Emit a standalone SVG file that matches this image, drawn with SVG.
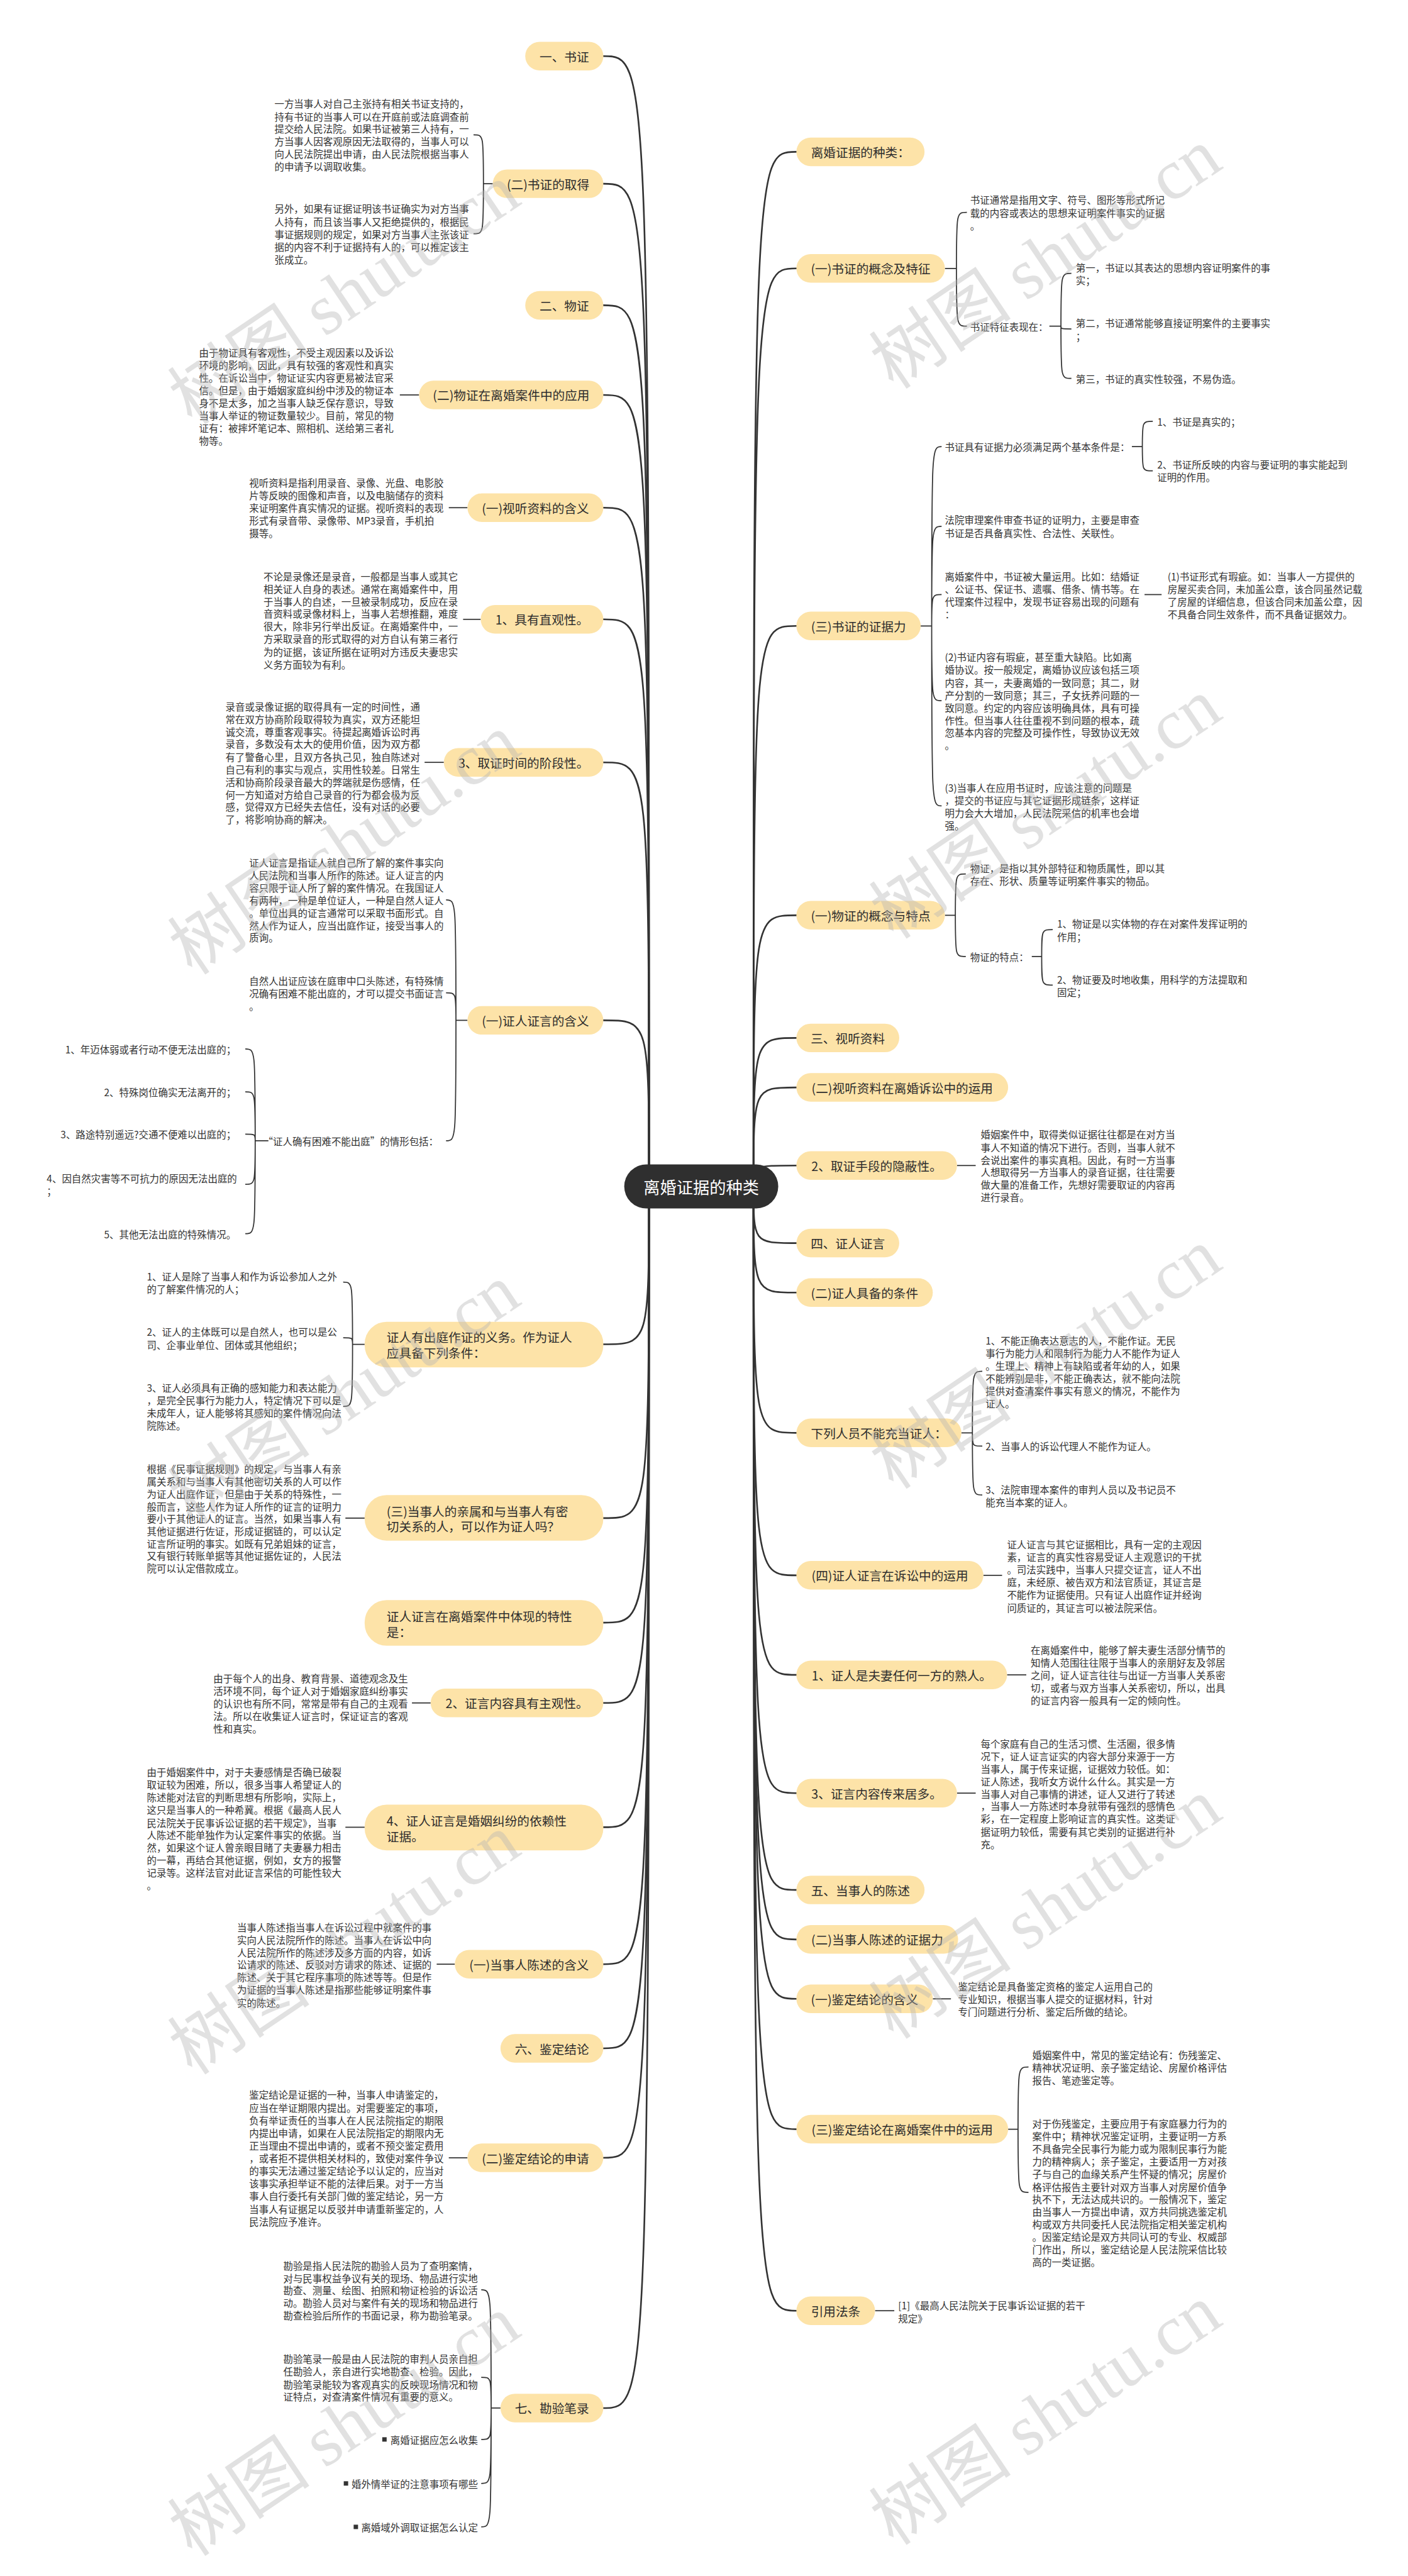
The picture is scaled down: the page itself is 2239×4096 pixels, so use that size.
<svg xmlns="http://www.w3.org/2000/svg" width="2239" height="4096" viewBox="0 0 2239 4096">
<style>
.n{fill:#fde3a8}
.nt{font-family:"Noto Sans CJK SC","Noto Sans",sans-serif;font-size:22.5px;fill:#2d2d2d;dominant-baseline:central;text-anchor:middle}
.nl{font-family:"Noto Sans CJK SC","Noto Sans",sans-serif;font-size:22.5px;fill:#2d2d2d;dominant-baseline:central}
.t{font-family:"Noto Sans CJK SC","Noto Sans",sans-serif;font-size:17.7px;fill:#333;dominant-baseline:central}
.te{font-family:"Noto Sans CJK SC","Noto Sans",sans-serif;font-size:17.7px;fill:#333;dominant-baseline:central;text-anchor:end}
.rt{font-family:"Noto Sans CJK SC","Noto Sans",sans-serif;font-size:30px;fill:#fff;dominant-baseline:central;text-anchor:middle}
.c{fill:none;stroke:#333;stroke-width:3;stroke-linecap:round}
.s{fill:none;stroke:#333;stroke-width:2}
.wm{font-family:"Noto Sans CJK SC",sans-serif;font-size:130px;fill:#b5b5b5;opacity:0.4}
.wm2{font-family:"Liberation Serif",serif}
</style>
<rect width="2239" height="4096" fill="#fff"/>
<g transform="scale(0.8746)">
<g id="connectors">
<!-- root to right -->
<path class="c" d="M1370,2157 C1370,276 1370,276 1448,276"/>
<path class="c" d="M1370,2157 C1370,488 1370,488 1448,488"/>
<path class="c" d="M1370,2157 C1370,1138 1370,1138 1448,1138"/>
<path class="c" d="M1370,2157 C1370,1664 1370,1664 1448,1664"/>
<path class="c" d="M1370,2157 C1370,1887 1370,1887 1448,1887"/>
<path class="c" d="M1370,2157 C1370,1977 1370,1977 1448,1977"/>
<path class="c" d="M1370,2157 C1370,2119 1370,2119 1448,2119"/>
<path class="c" d="M1370,2157 C1370,2260 1370,2260 1448,2260"/>
<path class="c" d="M1370,2157 C1370,2350 1370,2350 1448,2350"/>
<path class="c" d="M1370,2157 C1370,2605 1370,2605 1448,2605"/>
<path class="c" d="M1370,2157 C1370,2864 1370,2864 1448,2864"/>
<path class="c" d="M1370,2157 C1370,3045 1370,3045 1448,3045"/>
<path class="c" d="M1370,2157 C1370,3260 1370,3260 1448,3260"/>
<path class="c" d="M1370,2157 C1370,3436 1370,3436 1448,3436"/>
<path class="c" d="M1370,2157 C1370,3526 1370,3526 1448,3526"/>
<path class="c" d="M1370,2157 C1370,3634 1370,3634 1448,3634"/>
<path class="c" d="M1370,2157 C1370,3871 1370,3871 1448,3871"/>
<path class="c" d="M1370,2157 C1370,4201 1370,4201 1448,4201"/>
<!-- root to left -->
<path class="c" d="M1180,2157 C1180,102 1180,102 1097,102"/>
<path class="c" d="M1180,2157 C1180,334 1180,334 1097,334"/>
<path class="c" d="M1180,2157 C1180,555 1180,555 1097,555"/>
<path class="c" d="M1180,2157 C1180,718 1180,718 1097,718"/>
<path class="c" d="M1180,2157 C1180,923 1180,923 1097,923"/>
<path class="c" d="M1180,2157 C1180,1126 1180,1126 1097,1126"/>
<path class="c" d="M1180,2157 C1180,1386 1180,1386 1097,1386"/>
<path class="c" d="M1180,2157 C1180,1855 1180,1855 1097,1855"/>
<path class="c" d="M1180,2157 C1180,2444 1180,2444 1097,2444"/>
<path class="c" d="M1180,2157 C1180,2760 1180,2760 1097,2760"/>
<path class="c" d="M1180,2157 C1180,2950 1180,2950 1097,2950"/>
<path class="c" d="M1180,2157 C1180,3096 1180,3096 1097,3096"/>
<path class="c" d="M1180,2157 C1180,3322 1180,3322 1097,3322"/>
<path class="c" d="M1180,2157 C1180,3571 1180,3571 1097,3571"/>
<path class="c" d="M1180,2157 C1180,3724 1180,3724 1097,3724"/>
<path class="c" d="M1180,2157 C1180,3923 1180,3923 1097,3923"/>
<path class="c" d="M1180,2157 C1180,4378 1180,4378 1097,4378"/>
<!-- right sub connectors -->
<path class="s" d="M1718,488 H1739 M1739,488 C1739,386 1739,386 1758,386 M1739,488 C1739,593 1739,593 1758,593"/>
<path class="s" d="M1908,593 H1929 M1929,593 C1929,497 1929,497 1948,497 M1929,593 C1929,598 1929,598 1948,598 M1929,593 C1929,688 1929,688 1948,688"/>
<path class="s" d="M1674,1138 H1694 M1694,1138 C1694,812 1694,812 1712,812 M1694,1138 C1694,957 1694,957 1712,957 M1694,1138 C1694,1081 1694,1081 1712,1081 M1694,1138 C1694,1274 1694,1274 1712,1274 M1694,1138 C1694,1465 1694,1465 1712,1465"/>
<path class="s" d="M2058,812 H2077 M2077,812 C2077,766 2077,766 2096,766 M2077,812 C2077,856 2077,856 2096,856"/>
<path class="s" d="M2081,1081 H2112"/>
<path class="s" d="M1718,1664 H1737 M1737,1664 C1737,1589 1737,1589 1756,1589 M1737,1664 C1737,1739 1737,1739 1756,1739"/>
<path class="s" d="M1876,1739 H1894 M1894,1739 C1894,1690 1894,1690 1914,1690 M1894,1739 C1894,1791 1894,1791 1914,1791"/>
<path class="s" d="M1740,2119 H1774"/>
<path class="s" d="M1748,2605 H1768 M1768,2605 C1768,2493 1768,2493 1786,2493 M1768,2605 C1768,2629 1768,2629 1786,2629 M1768,2605 C1768,2718 1768,2718 1786,2718"/>
<path class="s" d="M1788,2864 H1822"/>
<path class="s" d="M1831,3045 H1866"/>
<path class="s" d="M1740,3260 H1774"/>
<path class="s" d="M1696,3634 H1729"/>
<path class="s" d="M1833,3871 H1851 M1851,3871 C1851,3758 1851,3758 1870,3758 M1851,3871 C1851,3986 1851,3986 1870,3986"/>
<path class="s" d="M1591,4201 H1626"/>
<!-- left sub connectors -->
<path class="s" d="M896,334 H879 M879,334 C879,245 879,245 861,245 M879,334 C879,425 879,425 861,425"/>
<path class="s" d="M762,718 H727"/>
<path class="s" d="M850,923 H816"/>
<path class="s" d="M874,1126 H842"/>
<path class="s" d="M807,1386 H772"/>
<path class="s" d="M850,1855 H829 M829,1855 C829,1636 829,1636 811,1636 M829,1855 C829,1805 829,1805 811,1805 M829,1855 C829,2074 829,2074 811,2074"/>
<path class="s" d="M488,2074 H464 M464,2074 C464,1907 464,1907 446,1907 M464,2074 C464,1985 464,1985 446,1985 M464,2074 C464,2062 464,2062 446,2062 M464,2074 C464,2153 464,2153 446,2153 M464,2074 C464,2243 464,2243 446,2243"/>
<path class="s" d="M663,2444 H641 M641,2444 C641,2331 641,2331 624,2331 M641,2444 C641,2432 641,2432 624,2432 M641,2444 C641,2557 641,2557 624,2557"/>
<path class="s" d="M663,2760 H628"/>
<path class="s" d="M783,3096 H749"/>
<path class="s" d="M663,3322 H628"/>
<path class="s" d="M827,3571 H794"/>
<path class="s" d="M850,3923 H816"/>
<path class="s" d="M910,4378 H893 M893,4378 C893,4163 893,4163 875,4163 M893,4378 C893,4322 893,4322 875,4322 M893,4378 C893,4435 893,4435 875,4435 M893,4378 C893,4515 893,4515 875,4515 M893,4378 C893,4594 893,4594 875,4594"/>
</g>

<g id="root"><rect x="1135" y="2117" width="280" height="80" rx="40" fill="#2f2f2f"/><text class="rt" x="1275" y="2157">离婚证据的种类</text></g>

<!-- right nodes -->
<g id="r1"><rect class="n" x="1448" y="250" width="233" height="52" rx="26"/><text class="nt" x="1564.5" y="276">离婚证据的种类：</text></g>
<g id="r2"><rect class="n" x="1448" y="462" width="270" height="52" rx="26"/><text class="nt" x="1583" y="488">(一)书证的概念及特征</text>
<text class="t"><tspan x="1764" y="363">书证通常是指用文字、符号、图形等形式所记</tspan><tspan x="1764" y="386">载的内容或表达的思想来证明案件事实的证据</tspan><tspan x="1764" y="409">。</tspan></text>
<text class="t" x="1764" y="593">书证特征表现在：</text>
<text class="t"><tspan x="1956" y="486">第一，书证以其表达的思想内容证明案件的事</tspan><tspan x="1956" y="509">实；</tspan></text>
<text class="t"><tspan x="1956" y="587">第二，书证通常能够直接证明案件的主要事实</tspan><tspan x="1956" y="610">；</tspan></text>
<text class="t" x="1956" y="688">第三，书证的真实性较强，不易伪造。</text>
</g>
<g id="r3"><rect class="n" x="1448" y="1112" width="226" height="52" rx="26"/><text class="nt" x="1561" y="1138">(三)书证的证据力</text>
<text class="t" x="1718" y="812">书证具有证据力必须满足两个基本条件是：</text>
<text class="t" x="2104" y="766">1、书证是真实的；</text>
<text class="t"><tspan x="2104" y="844">2、书证所反映的内容与要证明的事实能起到</tspan><tspan x="2104" y="867">证明的作用。</tspan></text>
<text class="t"><tspan x="1718" y="945">法院审理案件审查书证的证明力，主要是审查</tspan><tspan x="1718" y="968">书证是否具备真实性、合法性、关联性。</tspan></text>
<text class="t"><tspan x="1718" y="1047">离婚案件中，书证被大量运用。比如：结婚证</tspan><tspan x="1718" y="1070">、公证书、保证书、遗嘱、借条、情书等。在</tspan><tspan x="1718" y="1093">代理案件过程中，发现书证容易出现的问题有</tspan><tspan x="1718" y="1116">：</tspan></text>
<text class="t"><tspan x="2123" y="1047">(1)书证形式有瑕疵。如：当事人一方提供的</tspan><tspan x="2123" y="1070">房屋买卖合同，未加盖公章，该合同虽然记载</tspan><tspan x="2123" y="1093">了房屋的详细信息，但该合同未加盖公章，因</tspan><tspan x="2123" y="1116">不具备合同生效条件，而不具备证据效力。</tspan></text>
<text class="t"><tspan x="1718" y="1194">(2)书证内容有瑕疵，甚至重大缺陷。比如离</tspan><tspan x="1718" y="1217">婚协议。按一般规定，离婚协议应该包括三项</tspan><tspan x="1718" y="1240">内容，其一，夫妻离婚的一致同意；其二，财</tspan><tspan x="1718" y="1263">产分割的一致同意；其三，子女抚养问题的一</tspan><tspan x="1718" y="1286">致同意。约定的内容应该明确具体，具有可操</tspan><tspan x="1718" y="1309">作性。但当事人往往重视不到问题的根本，疏</tspan><tspan x="1718" y="1331">忽基本内容的完整及可操作性，导致协议无效</tspan><tspan x="1718" y="1354">。</tspan></text>
<text class="t"><tspan x="1718" y="1431">(3)当事人在应用书证时，应该注意的问题是</tspan><tspan x="1718" y="1454">，提交的书证应与其它证据形成链条，这样证</tspan><tspan x="1718" y="1477">明力会大大增加，人民法院采信的机率也会增</tspan><tspan x="1718" y="1500">强。</tspan></text>
</g>
<g id="r4"><rect class="n" x="1448" y="1638" width="270" height="52" rx="26"/><text class="nt" x="1583" y="1664">(一)物证的概念与特点</text>
<text class="t"><tspan x="1764" y="1578">物证，是指以其外部特征和物质属性，即以其</tspan><tspan x="1764" y="1601">存在、形状、质量等证明案件事实的物品。</tspan></text>
<text class="t" x="1764" y="1739">物证的特点：</text>
<text class="t"><tspan x="1922" y="1679">1、物证是以实体物的存在对案件发挥证明的</tspan><tspan x="1922" y="1702">作用；</tspan></text>
<text class="t"><tspan x="1922" y="1780">2、物证要及时地收集，用科学的方法提取和</tspan><tspan x="1922" y="1803">固定；</tspan></text>
</g>
<g id="r5"><rect class="n" x="1448" y="1861" width="187" height="52" rx="26"/><text class="nt" x="1541.5" y="1887">三、视听资料</text></g>
<g id="r6"><rect class="n" x="1448" y="1951" width="385" height="52" rx="26"/><text class="nt" x="1640.5" y="1977">(二)视听资料在离婚诉讼中的运用</text></g>
<g id="r7"><rect class="n" x="1448" y="2093" width="292" height="52" rx="26"/><text class="nt" x="1594" y="2119">2、取证手段的隐蔽性。</text>
<text class="t"><tspan x="1783" y="2062">婚姻案件中，取得类似证据往往都是在对方当</tspan><tspan x="1783" y="2085">事人不知道的情况下进行。否则，当事人就不</tspan><tspan x="1783" y="2108">会说出案件的事实真相。因此，有时一方当事</tspan><tspan x="1783" y="2130">人想取得另一方当事人的录音证据，往往需要</tspan><tspan x="1783" y="2153">做大量的准备工作，先想好需要取证的内容再</tspan><tspan x="1783" y="2176">进行录音。</tspan></text>
</g>
<g id="r8"><rect class="n" x="1448" y="2234" width="187" height="52" rx="26"/><text class="nt" x="1541.5" y="2260">四、证人证言</text></g>
<g id="r9"><rect class="n" x="1448" y="2324" width="248" height="52" rx="26"/><text class="nt" x="1572" y="2350">(二)证人具备的条件</text></g>
<g id="r10"><rect class="n" x="1448" y="2579" width="300" height="52" rx="26"/><text class="nt" x="1598" y="2605">下列人员不能充当证人：</text>
<text class="t"><tspan x="1792" y="2436">1、不能正确表达意志的人，不能作证。无民</tspan><tspan x="1792" y="2459">事行为能力人和限制行为能力人不能作为证人</tspan><tspan x="1792" y="2482">。生理上、精神上有缺陷或者年幼的人，如果</tspan><tspan x="1792" y="2505">不能辨别是非，不能正确表达，就不能向法院</tspan><tspan x="1792" y="2528">提供对查清案件事实有意义的情况，不能作为</tspan><tspan x="1792" y="2551">证人。</tspan></text>
<text class="t" x="1792" y="2629">2、当事人的诉讼代理人不能作为证人。</text>
<text class="t"><tspan x="1792" y="2707">3、法院审理本案件的审判人员以及书记员不</tspan><tspan x="1792" y="2730">能充当本案的证人。</tspan></text>
</g>
<g id="r11"><rect class="n" x="1448" y="2838" width="340" height="52" rx="26"/><text class="nt" x="1618" y="2864">(四)证人证言在诉讼中的运用</text>
<text class="t"><tspan x="1831" y="2807">证人证言与其它证据相比，具有一定的主观因</tspan><tspan x="1831" y="2830">素，证言的真实性容易受证人主观意识的干扰</tspan><tspan x="1831" y="2853">。司法实践中，当事人只提交证言，证人不出</tspan><tspan x="1831" y="2876">庭，未经原、被告双方和法官质证，其证言是</tspan><tspan x="1831" y="2899">不能作为证据使用。只有证人出庭作证并经询</tspan><tspan x="1831" y="2922">问质证的，其证言可以被法院采信。</tspan></text>
</g>
<g id="r12"><rect class="n" x="1448" y="3019" width="383" height="52" rx="26"/><text class="nt" x="1639.5" y="3045">1、证人是夫妻任何一方的熟人。</text>
<text class="t"><tspan x="1874" y="2999">在离婚案件中，能够了解夫妻生活部分情节的</tspan><tspan x="1874" y="3022">知情人范围往往限于当事人的亲朋好友及邻居</tspan><tspan x="1874" y="3045">之间，证人证言往往与出证一方当事人关系密</tspan><tspan x="1874" y="3068">切，或者与双方当事人关系密切，所以，出具</tspan><tspan x="1874" y="3091">的证言内容一般具有一定的倾向性。</tspan></text>
</g>
<g id="r13"><rect class="n" x="1448" y="3234" width="292" height="52" rx="26"/><text class="nt" x="1594" y="3260">3、证言内容传来居多。</text>
<text class="t"><tspan x="1783" y="3169">每个家庭有自己的生活习惯、生活圈，很多情</tspan><tspan x="1783" y="3192">况下，证人证言证实的内容大部分来源于一方</tspan><tspan x="1783" y="3215">当事人，属于传来证据，证据效力较低。如：</tspan><tspan x="1783" y="3238">证人陈述，我听女方说什么什么。其实是一方</tspan><tspan x="1783" y="3261">当事人对自己事情的讲述，证人又进行了转述</tspan><tspan x="1783" y="3283">，当事人一方陈述时本身就带有强烈的感情色</tspan><tspan x="1783" y="3306">彩，在一定程度上影响证言的真实性。这类证</tspan><tspan x="1783" y="3329">据证明力较低，需要有其它类别的证据进行补</tspan><tspan x="1783" y="3352">充。</tspan></text>
</g>
<g id="r14"><rect class="n" x="1448" y="3410" width="233" height="52" rx="26"/><text class="nt" x="1564.5" y="3436">五、当事人的陈述</text></g>
<g id="r15"><rect class="n" x="1448" y="3500" width="294" height="52" rx="26"/><text class="nt" x="1595" y="3526">(二)当事人陈述的证据力</text></g>
<g id="r16"><rect class="n" x="1448" y="3608" width="248" height="52" rx="26"/><text class="nt" x="1572" y="3634">(一)鉴定结论的含义</text>
<text class="t"><tspan x="1742" y="3611">鉴定结论是具备鉴定资格的鉴定人运用自己的</tspan><tspan x="1742" y="3634">专业知识，根据当事人提交的证据材料，针对</tspan><tspan x="1742" y="3657">专门问题进行分析、鉴定后所做的结论。</tspan></text>
</g>
<g id="r17"><rect class="n" x="1448" y="3845" width="385" height="52" rx="26"/><text class="nt" x="1640.5" y="3871">(三)鉴定结论在离婚案件中的运用</text>
<text class="t"><tspan x="1877" y="3735">婚姻案件中，常见的鉴定结论有：伤残鉴定、</tspan><tspan x="1877" y="3758">精神状况证明、亲子鉴定结论、房屋价格评估</tspan><tspan x="1877" y="3781">报告、笔迹鉴定等。</tspan></text>
<text class="t"><tspan x="1877" y="3860">对于伤残鉴定，主要应用于有家庭暴力行为的</tspan><tspan x="1877" y="3883">案件中；精神状况鉴定证明，主要证明一方系</tspan><tspan x="1877" y="3906">不具备完全民事行为能力或为限制民事行为能</tspan><tspan x="1877" y="3929">力的精神病人；亲子鉴定，主要适用一方对孩</tspan><tspan x="1877" y="3952">子与自己的血缘关系产生怀疑的情况；房屋价</tspan><tspan x="1877" y="3975">格评估报告主要针对双方当事人对房屋价值争</tspan><tspan x="1877" y="3997">执不下，无法达成共识的。一般情况下，鉴定</tspan><tspan x="1877" y="4020">由当事人一方提出申请，双方共同挑选鉴定机</tspan><tspan x="1877" y="4043">构或双方共同委托人民法院指定相关鉴定机构</tspan><tspan x="1877" y="4066">。因鉴定结论是双方共同认可的专业、权威部</tspan><tspan x="1877" y="4089">门作出，所以，鉴定结论是人民法院采信比较</tspan><tspan x="1877" y="4112">高的一类证据。</tspan></text>
</g>
<g id="r18"><rect class="n" x="1448" y="4175" width="143" height="52" rx="26"/><text class="nt" x="1519.5" y="4201">引用法条</text>
<text class="t"><tspan x="1633" y="4191">[1]《最高人民法院关于民事诉讼证据的若干</tspan><tspan x="1633" y="4214">规定》</tspan></text>
</g>

<!-- left nodes -->
<g id="l1"><rect class="n" x="955" y="76" width="142" height="52" rx="26"/><text class="nt" x="1026" y="102">一、书证</text></g>
<g id="l2"><rect class="n" x="896" y="308" width="201" height="52" rx="26"/><text class="nt" x="996.5" y="334">(二)书证的取得</text>
<text class="t"><tspan x="499" y="188">一方当事人对自己主张持有相关书证支持的，</tspan><tspan x="499" y="211">持有书证的当事人可以在开庭前或法庭调查前</tspan><tspan x="499" y="233">提交给人民法院。如果书证被第三人持有，一</tspan><tspan x="499" y="256">方当事人因客观原因无法取得的，当事人可以</tspan><tspan x="499" y="279">向人民法院提出申请，由人民法院根据当事人</tspan><tspan x="499" y="302">的申请予以调取收集。</tspan></text>
<text class="t"><tspan x="499" y="379">另外，如果有证据证明该书证确实为对方当事</tspan><tspan x="499" y="402">人持有，而且该当事人又拒绝提供的，根据民</tspan><tspan x="499" y="425">事证据规则的规定，如果对方当事人主张该证</tspan><tspan x="499" y="448">据的内容不利于证据持有人的，可以推定该主</tspan><tspan x="499" y="471">张成立。</tspan></text>
</g>
<g id="l3"><rect class="n" x="955" y="529" width="142" height="52" rx="26"/><text class="nt" x="1026" y="555">二、物证</text></g>
<g id="l4"><rect class="n" x="762" y="692" width="335" height="52" rx="26"/><text class="nt" x="929.5" y="718">(二)物证在离婚案件中的应用</text>
<text class="t"><tspan x="362" y="640">由于物证具有客观性，不受主观因素以及诉讼</tspan><tspan x="362" y="663">环境的影响，因此，具有较强的客观性和真实</tspan><tspan x="362" y="686">性。在诉讼当中，物证证实内容更易被法官采</tspan><tspan x="362" y="709">信。但是，由于婚姻家庭纠纷中涉及的物证本</tspan><tspan x="362" y="732">身不是太多，加之当事人缺乏保存意识，导致</tspan><tspan x="362" y="755">当事人举证的物证数量较少。目前，常见的物</tspan><tspan x="362" y="777">证有：被摔坏笔记本、照相机、送给第三者礼</tspan><tspan x="362" y="800">物等。</tspan></text>
</g>
<g id="l5"><rect class="n" x="850" y="897" width="247" height="52" rx="26"/><text class="nt" x="973.5" y="923">(一)视听资料的含义</text>
<text class="t"><tspan x="453" y="877">视听资料是指利用录音、录像、光盘、电影胶</tspan><tspan x="453" y="900">片等反映的图像和声音，以及电脑储存的资料</tspan><tspan x="453" y="923">来证明案件真实情况的证据。视听资料的表现</tspan><tspan x="453" y="946">形式有录音带、录像带、MP3录音，手机拍</tspan><tspan x="453" y="969">摄等。</tspan></text>
</g>
<g id="l6"><rect class="n" x="874" y="1100" width="223" height="52" rx="26"/><text class="nt" x="985.5" y="1126">1、具有直观性。</text>
<text class="t"><tspan x="479" y="1047">不论是录像还是录音，一般都是当事人或其它</tspan><tspan x="479" y="1070">相关证人自身的表述。通常在离婚案件中，用</tspan><tspan x="479" y="1093">于当事人的自述，一旦被录制成功，反应在录</tspan><tspan x="479" y="1115">音资料或录像材料上，当事人若想推翻，难度</tspan><tspan x="479" y="1138">很大，除非另行举出反证。在离婚案件中，一</tspan><tspan x="479" y="1161">方采取录音的形式取得的对方自认有第三者行</tspan><tspan x="479" y="1184">为的证据，该证所据在证明对方违反夫妻忠实</tspan><tspan x="479" y="1207">义务方面较为有利。</tspan></text>
</g>
<g id="l7"><rect class="n" x="807" y="1360" width="290" height="52" rx="26"/><text class="nt" x="952" y="1386">3、取证时间的阶段性。</text>
<text class="t"><tspan x="410" y="1284">录音或录像证据的取得具有一定的时间性，通</tspan><tspan x="410" y="1307">常在双方协商阶段取得较为真实，双方还能坦</tspan><tspan x="410" y="1330">诚交流，尊重客观事实。待提起离婚诉讼时再</tspan><tspan x="410" y="1352">录音，多数没有太大的使用价值，因为双方都</tspan><tspan x="410" y="1375">有了警备心里，且双方各执己见，独自陈述对</tspan><tspan x="410" y="1398">自己有利的事实与观点，实用性较差。日常生</tspan><tspan x="410" y="1421">活和协商阶段录音最大的弊端就是伤感情，任</tspan><tspan x="410" y="1444">何一方知道对方给自己录音的行为都会极为反</tspan><tspan x="410" y="1466">感，觉得双方已经失去信任，没有对话的必要</tspan><tspan x="410" y="1489">了，将影响协商的解决。</tspan></text>
</g>
<g id="l8"><rect class="n" x="850" y="1829" width="247" height="52" rx="26"/><text class="nt" x="973.5" y="1855">(一)证人证言的含义</text>
<text class="t"><tspan x="453" y="1568">证人证言是指证人就自己所了解的案件事实向</tspan><tspan x="453" y="1591">人民法院和当事人所作的陈述。证人证言的内</tspan><tspan x="453" y="1613">容只限于证人所了解的案件情况。在我国证人</tspan><tspan x="453" y="1636">有两种，一种是单位证人，一种是自然人证人</tspan><tspan x="453" y="1659">。单位出具的证言通常可以采取书面形式。自</tspan><tspan x="453" y="1682">然人作为证人，应当出庭作证，接受当事人的</tspan><tspan x="453" y="1704">质询。</tspan></text>
<text class="t"><tspan x="453" y="1782">自然人出证应该在庭审中口头陈述，有特殊情</tspan><tspan x="453" y="1805">况确有困难不能出庭的，才可以提交书面证言</tspan><tspan x="453" y="1828">。</tspan></text>
<text class="te" x="797" y="2074">“证人确有困难不能出庭”的情形包括：</text>
<text class="te" x="429" y="1907">1、年迈体弱或者行动不便无法出庭的；</text>
<text class="te" x="429" y="1985">2、特殊岗位确实无法离开的；</text>
<text class="te" x="429" y="2062">3、路途特别遥远?交通不便难以出庭的；</text>
<text class="t"><tspan x="85" y="2141">4、因自然灾害等不可抗力的原因无法出庭的</tspan><tspan x="85" y="2164">；</tspan></text>
<text class="te" x="429" y="2243">5、其他无法出庭的特殊情况。</text>
</g>
<g id="l9"><rect class="n" x="663" y="2403" width="434" height="83" rx="40"/><text class="nl"><tspan x="703" y="2430">证人有出庭作证的义务。作为证人</tspan><tspan x="703" y="2458">应具备下列条件：</tspan></text>
<text class="t"><tspan x="267" y="2320">1、证人是除了当事人和作为诉讼参加人之外</tspan><tspan x="267" y="2343">的了解案件情况的人；</tspan></text>
<text class="t"><tspan x="267" y="2421">2、证人的主体既可以是自然人，也可以是公</tspan><tspan x="267" y="2444">司、企事业单位、团体或其他组织；</tspan></text>
<text class="t"><tspan x="267" y="2522">3、证人必须具有正确的感知能力和表达能力</tspan><tspan x="267" y="2545">，是完全民事行为能力人，特定情况下可以是</tspan><tspan x="267" y="2568">未成年人，证人能够将其感知的案件情况向法</tspan><tspan x="267" y="2591">院陈述。</tspan></text>
</g>
<g id="l10"><rect class="n" x="663" y="2718" width="434" height="83" rx="40"/><text class="nl"><tspan x="703" y="2746">(三)当事人的亲属和与当事人有密</tspan><tspan x="703" y="2774">切关系的人，可以作为证人吗？</tspan></text>
<text class="t"><tspan x="267" y="2670">根据《民事证据规则》的规定，与当事人有亲</tspan><tspan x="267" y="2693">属关系和与当事人有其他密切关系的人可以作</tspan><tspan x="267" y="2715">为证人出庭作证，但是由于关系的特殊性，一</tspan><tspan x="267" y="2738">般而言，这些人作为证人所作的证言的证明力</tspan><tspan x="267" y="2760">要小于其他证人的证言。当然，如果当事人有</tspan><tspan x="267" y="2783">其他证据进行佐证，形成证据链的，可以认定</tspan><tspan x="267" y="2806">证言所证明的事实。如既有兄弟姐妹的证言，</tspan><tspan x="267" y="2828">又有银行转账单据等其他证据佐证的，人民法</tspan><tspan x="267" y="2851">院可以认定借款成立。</tspan></text>
</g>
<g id="l11"><rect class="n" x="663" y="2909" width="434" height="83" rx="40"/><text class="nl"><tspan x="703" y="2937">证人证言在离婚案件中体现的特性</tspan><tspan x="703" y="2966">是：</tspan></text></g>
<g id="l12"><rect class="n" x="783" y="3070" width="314" height="52" rx="26"/><text class="nt" x="940" y="3096">2、证言内容具有主观性。</text>
<text class="t"><tspan x="388" y="3050">由于每个人的出身、教育背景、道德观念及生</tspan><tspan x="388" y="3073">活环境不同，每个证人对于婚姻家庭纠纷事实</tspan><tspan x="388" y="3096">的认识也有所不同，常常是带有自己的主观看</tspan><tspan x="388" y="3119">法。所以在收集证人证言时，保证证言的客观</tspan><tspan x="388" y="3142">性和真实。</tspan></text>
</g>
<g id="l13"><rect class="n" x="663" y="3281" width="434" height="83" rx="40"/><text class="nl"><tspan x="703" y="3309">4、证人证言是婚姻纠纷的依赖性</tspan><tspan x="703" y="3338">证据。</tspan></text>
<text class="t"><tspan x="267" y="3221">由于婚姻案件中，对于夫妻感情是否确已破裂</tspan><tspan x="267" y="3244">取证较为困难，所以，很多当事人希望证人的</tspan><tspan x="267" y="3267">陈述能对法官的判断思想有所影响，实际上，</tspan><tspan x="267" y="3290">这只是当事人的一种希冀。根据《最高人民人</tspan><tspan x="267" y="3313">民法院关于民事诉讼证据的若干规定》，当事</tspan><tspan x="267" y="3335">人陈述不能单独作为认定案件事实的依据。当</tspan><tspan x="267" y="3358">然，如果这个证人曾亲眼目睹了夫妻暴力相击</tspan><tspan x="267" y="3381">的一幕，再结合其他证据，例如，女方的报警</tspan><tspan x="267" y="3404">记录等。这样法官对此证言采信的可能性较大</tspan><tspan x="267" y="3427">。</tspan></text>
</g>
<g id="l14"><rect class="n" x="827" y="3545" width="270" height="52" rx="26"/><text class="nt" x="962" y="3571">(一)当事人陈述的含义</text>
<text class="t"><tspan x="431" y="3503">当事人陈述指当事人在诉讼过程中就案件的事</tspan><tspan x="431" y="3526">实向人民法院所作的陈述。当事人在诉讼中向</tspan><tspan x="431" y="3549">人民法院所作的陈述涉及多方面的内容，如诉</tspan><tspan x="431" y="3571">讼请求的陈述、反驳对方请求的陈述、证据的</tspan><tspan x="431" y="3594">陈述、关于其它程序事项的陈述等等。但是作</tspan><tspan x="431" y="3617">为证据的当事人陈述是指那些能够证明案件事</tspan><tspan x="431" y="3640">实的陈述。</tspan></text>
</g>
<g id="l15"><rect class="n" x="910" y="3698" width="187" height="52" rx="26"/><text class="nt" x="1003.5" y="3724">六、鉴定结论</text></g>
<g id="l16"><rect class="n" x="850" y="3897" width="247" height="52" rx="26"/><text class="nt" x="973.5" y="3923">(二)鉴定结论的申请</text>
<text class="t"><tspan x="453" y="3808">鉴定结论是证据的一种，当事人申请鉴定的，</tspan><tspan x="453" y="3831">应当在举证期限内提出。对需要鉴定的事项，</tspan><tspan x="453" y="3854">负有举证责任的当事人在人民法院指定的期限</tspan><tspan x="453" y="3877">内提出申请，如果在人民法院指定的期限内无</tspan><tspan x="453" y="3900">正当理由不提出申请的，或者不预交鉴定费用</tspan><tspan x="453" y="3923">，或者拒不提供相关材料的，致使对案件争议</tspan><tspan x="453" y="3946">的事实无法通过鉴定结论予以认定的，应当对</tspan><tspan x="453" y="3969">该事实承担举证不能的法律后果。对于一方当</tspan><tspan x="453" y="3992">事人自行委托有关部门做的鉴定结论，另一方</tspan><tspan x="453" y="4015">当事人有证据足以反驳并申请重新鉴定的，人</tspan><tspan x="453" y="4038">民法院应予准许。</tspan></text>
</g>
<g id="l17"><rect class="n" x="910" y="4352" width="187" height="52" rx="26"/><text class="nt" x="1003.5" y="4378">七、勘验笔录</text>
<text class="t"><tspan x="515" y="4118">勘验是指人民法院的勘验人员为了查明案情，</tspan><tspan x="515" y="4141">对与民事权益争议有关的现场、物品进行实地</tspan><tspan x="515" y="4163">勘查、测量、绘图、拍照和物证检验的诉讼活</tspan><tspan x="515" y="4186">动。勘验人员对与案件有关的现场和物品进行</tspan><tspan x="515" y="4209">勘查检验后所作的书面记录，称为勘验笔录。</tspan></text>
<text class="t"><tspan x="515" y="4288">勘验笔录一般是由人民法院的审判人员亲自担</tspan><tspan x="515" y="4311">任勘验人，亲自进行实地勘查、检验。因此，</tspan><tspan x="515" y="4334">勘验笔录能较为客观真实的反映现场情况和物</tspan><tspan x="515" y="4356">证特点，对查清案件情况有重要的意义。</tspan></text>
<rect x="695" y="4431" width="8" height="8" fill="#333"/><text class="te" x="869" y="4435">离婚证据应怎么收集</text>
<rect x="625" y="4511" width="8" height="8" fill="#333"/><text class="te" x="869" y="4515">婚外情举证的注意事项有哪些</text>
<rect x="643" y="4590" width="8" height="8" fill="#333"/><text class="te" x="869" y="4594">离婚域外调取证据怎么认定</text>
</g>

<g id="watermarks">
<text class="wm" transform="translate(350,775) rotate(-34)">树图 <tspan class="wm2">shutu.cn</tspan></text>
<text class="wm" transform="translate(350,1775) rotate(-34)">树图 <tspan class="wm2">shutu.cn</tspan></text>
<text class="wm" transform="translate(350,2775) rotate(-34)">树图 <tspan class="wm2">shutu.cn</tspan></text>
<text class="wm" transform="translate(350,3775) rotate(-34)">树图 <tspan class="wm2">shutu.cn</tspan></text>
<text class="wm" transform="translate(350,4650) rotate(-34)">树图 <tspan class="wm2">shutu.cn</tspan></text>
<text class="wm" transform="translate(1625,710) rotate(-34)">树图 <tspan class="wm2">shutu.cn</tspan></text>
<text class="wm" transform="translate(1625,1710) rotate(-34)">树图 <tspan class="wm2">shutu.cn</tspan></text>
<text class="wm" transform="translate(1625,2710) rotate(-34)">树图 <tspan class="wm2">shutu.cn</tspan></text>
<text class="wm" transform="translate(1625,3710) rotate(-34)">树图 <tspan class="wm2">shutu.cn</tspan></text>
<text class="wm" transform="translate(1625,4630) rotate(-34)">树图 <tspan class="wm2">shutu.cn</tspan></text>
</g>
</g>
</svg>
